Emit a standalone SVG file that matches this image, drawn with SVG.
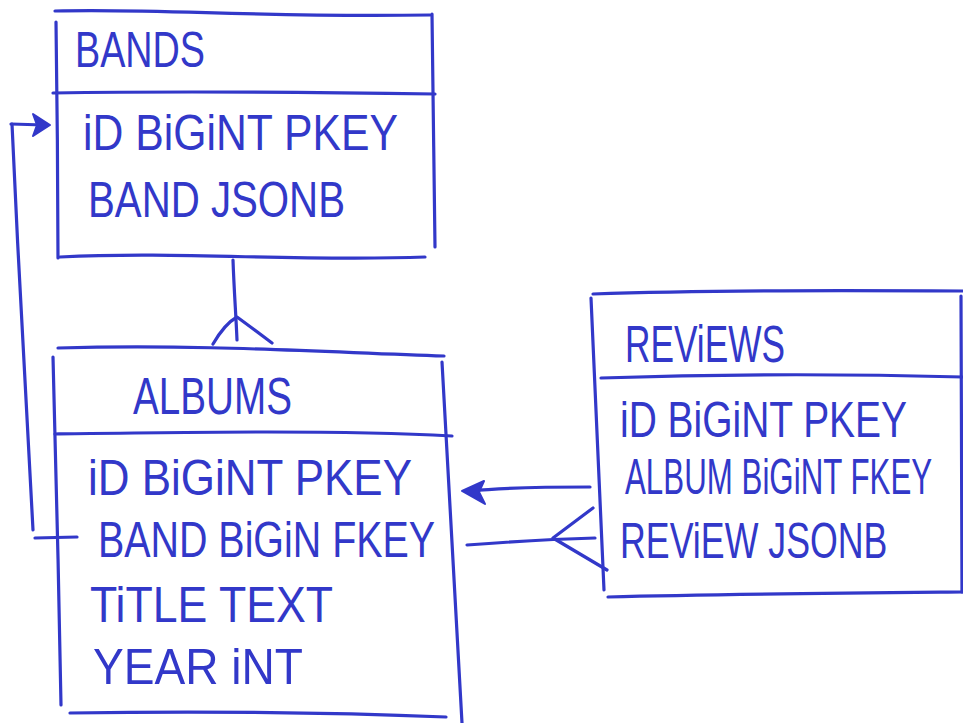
<svg xmlns="http://www.w3.org/2000/svg" width="963" height="723" viewBox="0 0 963 723">
  <style>
    .ink { fill: none; stroke: #3238c9; stroke-width: 3.2; stroke-linecap: round; stroke-linejoin: round; }
    .head { fill: #3238c9; stroke: #3238c9; stroke-width: 2; stroke-linejoin: round; }
    .t { fill: #3238c9; font-family: "Liberation Sans", "DejaVu Sans", sans-serif; font-size: 50px; }
    .title { font-size: 52px; }
  </style>
  <rect width="963" height="723" fill="#ffffff"/>

  <!-- BANDS table -->
  <g id="bands">
    <path class="ink" d="M55,11 C160,8 260,18 430,15"/>
    <path class="ink" d="M56,22 C57,100 58,180 58,258"/>
    <path class="ink" d="M432,14 C433,90 434,170 435,247"/>
    <path class="ink" d="M53,93 C180,91 300,92 435,94"/>
    <path class="ink" d="M60,257 C180,251 300,262 425,257"/>
    <text class="t" x="75" y="67" textLength="130" lengthAdjust="spacingAndGlyphs">BANDS</text>
    <text class="t" x="83" y="150" textLength="315" lengthAdjust="spacingAndGlyphs">iD BiGiNT PKEY</text>
    <text class="t" x="88" y="217" textLength="257" lengthAdjust="spacingAndGlyphs">BAND JSONB</text>
  </g>

  <!-- ALBUMS table -->
  <g id="albums">
    <path class="ink" d="M58,348 C200,344 320,352 444,356"/>
    <path class="ink" d="M53,357 C56,470 59,590 61,705"/>
    <path class="ink" d="M442,362 C448,480 456,600 462,723"/>
    <path class="ink" d="M55,434 C200,432 340,430 452,436"/>
    <path class="ink" d="M70,713 C200,711 320,712 446,717"/>
    <text class="t title" x="133" y="414" textLength="159" lengthAdjust="spacingAndGlyphs">ALBUMS</text>
    <text class="t" x="88" y="495" textLength="324" lengthAdjust="spacingAndGlyphs">iD BiGiNT PKEY</text>
    <text class="t" x="98" y="557" textLength="337" lengthAdjust="spacingAndGlyphs">BAND BiGiN FKEY</text>
    <text class="t" x="90" y="622" textLength="243" lengthAdjust="spacingAndGlyphs">TiTLE TEXT</text>
    <text class="t" x="93" y="684" textLength="210" lengthAdjust="spacingAndGlyphs">YEAR iNT</text>
  </g>

  <!-- REVIEWS table: rows are squeezed with a scale so their boxes stay inside the frame -->
  <g id="reviews">
    <path class="ink" d="M593,294 C700,290 820,290 963,291"/>
    <path class="ink" d="M591,298 C595,400 600,500 604,590"/>
    <path class="ink" d="M961,296 C961,400 962,500 962,592"/>
    <path class="ink" d="M601,378 C720,374 850,374 963,377"/>
    <path class="ink" d="M608,597 C720,594 850,593 963,592"/>
    <text class="t title" x="625" y="362" textLength="160" lengthAdjust="spacingAndGlyphs">REViEWS</text>
    <text class="t" transform="translate(620,437) scale(0.779,1)" x="0" y="0">iD BiGiNT PKEY</text>
    <text class="t" transform="translate(625,494) scale(0.626,1)" x="0" y="0">ALBUM BiGiNT FKEY</text>
    <text class="t" transform="translate(620,558) scale(0.715,1)" x="0" y="0">REViEW JSONB</text>
  </g>

  <!-- relationships -->
  <g id="connectors">
    <!-- albums.band -> bands.id -->
    <path class="ink" d="M35,538 L77,537"/>
    <path class="ink" d="M33,530 C26,400 18,260 12,124"/>
    <path class="ink" d="M11,124 L44,125"/>
    <path class="head" d="M50,125 L33,114 L37,125 L33,136 Z"/>

    <!-- bands 1 : N albums -->
    <path class="ink" d="M233,260 C234,290 236,315 237,340"/>
    <path class="ink" d="M213,344 C220,332 228,322 237,317 C248,325 260,334 272,343"/>

    <!-- reviews.album -> albums.id -->
    <path class="ink" d="M590,487 C540,487 500,488 470,491"/>
    <path class="head" d="M462,491 L484,481 L479,492 L485,504 Z"/>

    <!-- albums 1 : N reviews -->
    <path class="ink" d="M467,545 C520,541 560,539 595,538"/>
    <path class="ink" d="M593,508 L553,538 L607,570"/>
  </g>
</svg>
